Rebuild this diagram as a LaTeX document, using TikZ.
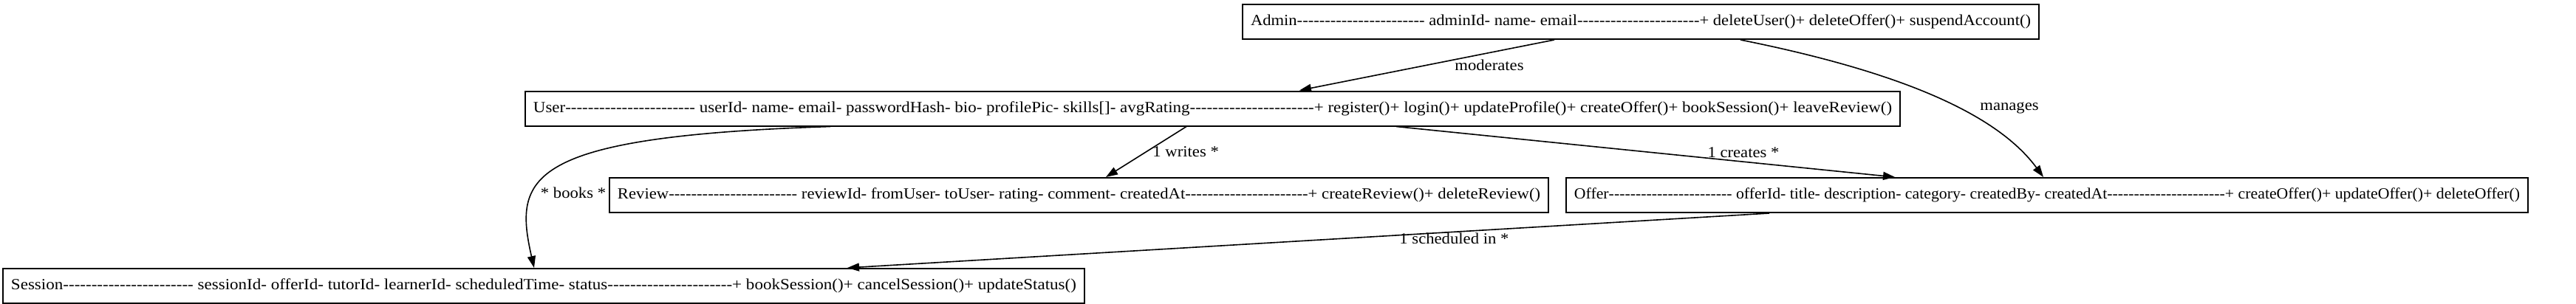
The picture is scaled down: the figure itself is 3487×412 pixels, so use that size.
\documentclass[tikz,border=0pt]{standalone}
\usepackage{fontspec}
\usepackage{graphicx}
\setmainfont{Liberation Serif}
\usetikzlibrary{arrows.meta}
\newcommand\dashrun[1]{{\count255=0 \loop\ifnum\count255<#1 \mbox{-}\advance\count255 by 1 \repeat}}
\newcommand\fitw[2]{\resizebox{#1}{\height}{#2}}
\newcommand\lbltext[1]{\scalebox{1.08}[1]{#1}}
\begin{document}
\begin{tikzpicture}[x=0.5pt,y=-0.5pt,
  cls/.style={draw=black, line width=1pt, inner sep=0pt, minimum height=23.5pt, font=\fontsize{10.5}{12.5}\selectfont},
  rel/.style={draw=black, line width=0.8pt, -{Triangle[length=8pt,width=5.5pt]}},
  lbl/.style={font=\fontsize{10.5}{12.5}\selectfont, inner sep=0pt}]
\useasboundingbox (0,0) rectangle (3487,412);
\node[cls, minimum width=539pt] (admin) at (2221,29.5) {\fitw{528pt}{Admin\dashrun{23} adminId- name- email\dashrun{22}+ deleteUser()+ deleteOffer()+ suspendAccount()}};
\node[cls, minimum width=930.5pt] (user) at (1641.5,147) {\fitw{919.5pt}{User\dashrun{23} userId- name- email- passwordHash- bio- profilePic- skills[]- avgRating\dashrun{22}+ register()+ login()+ updateProfile()+ createOffer()+ bookSession()+ leaveReview()}};
\node[cls, minimum width=635.5pt] (review) at (1460.5,264.5) {\fitw{624.5pt}{Review\dashrun{23} reviewId- fromUser- toUser- rating- comment- createdAt\dashrun{22}+ createReview()+ deleteReview()}};
\node[cls, minimum width=651pt] (offer) at (2771,264.5) {\fitw{640pt}{Offer\dashrun{23} offerId- title- description- category- createdBy- createdAt\dashrun{22}+ createOffer()+ updateOffer()+ deleteOffer()}};
\node[cls, minimum width=732pt] (session) at (736,387.5) {\fitw{721pt}{Session\dashrun{23} sessionId- offerId- tutorId- learnerId- scheduledTime- status\dashrun{22}+ bookSession()+ cancelSession()+ updateStatus()}};

\draw[rel] (2104,0 |- admin.south) -- (1759,0 |- user.north);
\node[lbl] (lmod) at (2016,88) {\lbltext{moderates}};
\draw[rel] (2356,0 |- admin.south) .. controls (2560,95) and (2700,150) .. (2766,0 |- offer.north);
\node[lbl] (lman) at (2720,146) {\lbltext{manages}};
\draw[rel] (1606,0 |- user.south) -- (1497,0 |- review.north);
\node[lbl, anchor=west] (lwr) at (1560,206) {\lbltext{1 writes *}};
\draw[rel] (1890,0 |- user.south) -- (2565,0 |- offer.north);
\node[lbl] (lcr) at (2360,207) {\lbltext{1 creates *}};
\draw[rel] (1124,0 |- user.south) .. controls (710,185) and (695,240) .. (723,0 |- session.north);
\node[lbl] (lbk) at (776,261) {\lbltext{* books *}};
\draw[rel] (2395,0 |- offer.south) -- (1147,0 |- session.north);
\node[lbl, anchor=west] (lsc) at (1894,323) {\lbltext{1 scheduled in *}};
\end{tikzpicture}
\end{document}
